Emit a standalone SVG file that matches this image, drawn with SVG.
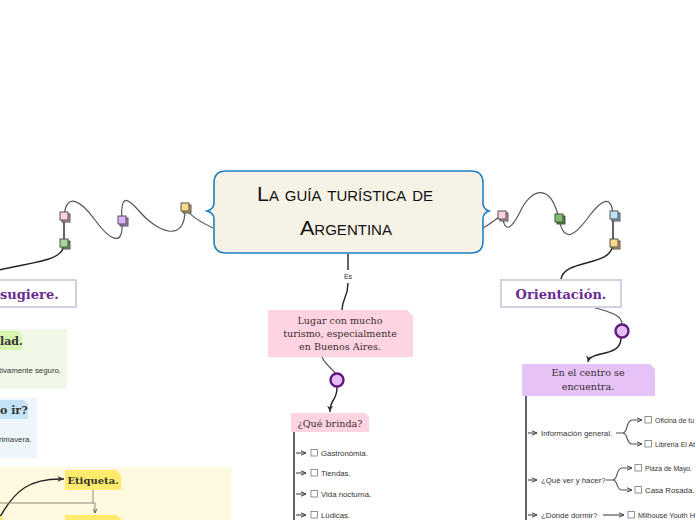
<svg xmlns="http://www.w3.org/2000/svg" width="696" height="520" viewBox="0 0 696 520">
<defs>
<style>
.c{fill:none;stroke:#555;stroke-width:1.2}
.ck{fill:none;stroke:#222;stroke-width:1.4}
.sm{font-family:"Liberation Sans",Arial,sans-serif;font-size:7.8px;fill:#333}
.lab{font-family:"DejaVu Serif",serif;font-size:9.6px;fill:#3a2e2e}
.hd{font-family:"DejaVu Serif",serif;font-weight:bold;font-size:13px;fill:#6b2c91}
.cb{fill:#fff;stroke:#666;stroke-width:0.7}
.sq{stroke:#444;stroke-width:0.9}
</style>
<marker id="ar" viewBox="0 0 6 6" refX="5.5" refY="3" markerWidth="5" markerHeight="5" orient="auto"><path d="M0,0.5 L5.5,3 L0,5.5 L1.5,3 Z" fill="#333"/></marker>
<marker id="ao" viewBox="0 0 6 6" refX="5.5" refY="3" markerWidth="5" markerHeight="5" orient="auto"><path d="M0.5,0.8 L5.5,3 L0.5,5.2" fill="none" stroke="#444" stroke-width="1"/></marker>
</defs>
<rect width="696" height="520" fill="#fff"/>

<!-- left panels -->
<g id="panel-green">
<rect x="-5" y="329" width="72" height="60" fill="#f2f8e8"/>
<path d="M-5,331 H18 L22,335 V350 H-5 Z" fill="#d6f5b0"/>
<text x="0" y="345" font-family="DejaVu Serif,serif" font-weight="bold" font-size="11" fill="#333">lad.</text>
<text x="-1" y="373" class="sm">tivamente seguro.</text>
</g>
<g id="panel-blue">
<rect x="-5" y="398" width="42" height="60" fill="#eef6fc"/>
<path d="M-5,400 H24 L28,404 V419 H-5 Z" fill="#c4e3f7"/>
<text x="0" y="414" font-family="DejaVu Serif,serif" font-weight="bold" font-size="11" fill="#333">o ir?</text>
<text x="-1" y="442" class="sm">rimavera.</text>
</g>
<g id="panel-yellow">
<rect x="-5" y="467" width="236" height="60" fill="#fffadf"/>
</g>

<!-- connectors -->
<g id="connectors">
<path class="c" d="M213,228 C200,222 190,216 185,208"/>
<path class="c" d="M185,208 C186,246 155,230 140,212 C128,198 120,192 122,221 C124,250 108,238 95,220 C82,202 66,190 64,217"/>
<path class="ck" d="M64,217 V244"/>
<path class="ck" d="M64,244 C64,262 30,262 -5,271"/>
<path class="c" d="M483,228 C490,224 496,219 502,215"/>
<path class="c" d="M502,215 C505,235 512,228 520,212 C530,190 550,180 559,219 C564,244 575,236 590,215 C600,202 612,192 613,216"/>
<path class="ck" d="M613,216 V243"/>
<path class="ck" d="M613,243 C613,268 565,258 561,279"/>
<path class="c" d="M592,307 C610,312 622,315 622,324"/>
<path class="ck" d="M621,338 C621,358 590,350 588,362" marker-end="url(#ar)"/>
<path class="ck" d="M348,254 V270"/>
<text x="348" y="278.5" font-family="Liberation Sans,Arial,sans-serif" font-size="7" fill="#333" text-anchor="middle">Es</text>
<path class="ck" d="M348,283 C348,298 342,298 342,310"/>
<path class="c" d="M322,357 C326,366 334,370 336,374"/>
<path class="ck" d="M337,387 C337,402 330,398 330,412" marker-end="url(#ar)"/>
<!-- que brinda list -->
<path class="ck" d="M294,432 V520"/>
<path class="c" d="M296,453 H306" marker-end="url(#ao)"/>
<path class="c" d="M296,473 H306" marker-end="url(#ao)"/>
<path class="c" d="M296,494 H306" marker-end="url(#ao)"/>
<path class="c" d="M296,515 H306" marker-end="url(#ao)"/>
<!-- orientacion list -->
<path class="ck" d="M526,396 V520"/>
<path class="c" d="M528,433 H537" marker-end="url(#ao)"/>
<path class="c" d="M528,480 H537" marker-end="url(#ao)"/>
<path class="c" d="M528,515 H537" marker-end="url(#ao)"/>
<path class="c" d="M616,433 H623 C628,433 626,420 632,420 H642" marker-end="url(#ao)"/>
<path class="c" d="M623,433 C628,433 626,444 632,444 H642" marker-end="url(#ao)"/>
<path class="c" d="M606,480 H613 C618,480 616,468 622,468 H632" marker-end="url(#ao)"/>
<path class="c" d="M613,480 C618,480 616,490 622,490 H632" marker-end="url(#ao)"/>
<path class="c" d="M603,515 H624" marker-end="url(#ao)"/>
<!-- etiqueta -->
<path class="ck" d="M0,517 C15,490 30,478 64,479" marker-end="url(#ar)"/>
<path d="M93,490 V503 M-5,503 H95 V513" fill="none" stroke="#8a8a7a" stroke-width="1" marker-end="url(#ao)"/>
</g>

<!-- squares -->
<g id="squares">
<rect class="sq" x="183" y="205" width="8" height="8" fill="#c9a96a"/><rect class="sq" x="181" y="203" width="8" height="8" fill="#fbd98a"/>
<rect class="sq" x="120" y="218" width="8" height="8" fill="#b090d0"/><rect class="sq" x="118" y="216" width="8" height="8" fill="#dcb5f7"/>
<rect class="sq" x="62" y="214" width="8" height="8" fill="#d0a0b8"/><rect class="sq" x="60" y="212" width="8" height="8" fill="#fad2e2"/>
<rect class="sq" x="62" y="241" width="8" height="8" fill="#6fa060"/><rect class="sq" x="60" y="239" width="8" height="8" fill="#a8d898"/>
<rect class="sq" x="500" y="213" width="8" height="8" fill="#d0a0b8"/><rect class="sq" x="498" y="211" width="8" height="8" fill="#fad2e2"/>
<rect class="sq" x="557" y="216" width="8" height="8" fill="#4e8a40"/><rect class="sq" x="555" y="214" width="8" height="8" fill="#7cbf6a"/>
<rect class="sq" x="612" y="213" width="8" height="8" fill="#90b0c8"/><rect class="sq" x="610" y="211" width="8" height="8" fill="#c0e2f7"/>
<rect class="sq" x="612" y="241" width="8" height="8" fill="#c9a96a"/><rect class="sq" x="610" y="239" width="8" height="8" fill="#fbd98a"/>
</g>

<!-- central node -->
<g id="central">
<path d="M225,171 H471 Q483,171 483,183 V203 Q483,209 489,211 Q483,213 483,219 V241 Q483,253 471,253 H226 Q214,253 214,241 V219 Q214,213 207,211 Q214,209 214,203 V183 Q214,171 226,171 Z" fill="#f7f2e6" stroke="#1f7fc0" stroke-width="1.6"/>
<text x="345" y="201" font-family="Liberation Sans,Arial,sans-serif" font-size="20" font-variant="small-caps" text-anchor="middle" fill="#111" textLength="176" lengthAdjust="spacingAndGlyphs">La guía turística de</text>
<text x="346" y="235" font-family="Liberation Sans,Arial,sans-serif" font-size="20" font-variant="small-caps" text-anchor="middle" fill="#111" textLength="92" lengthAdjust="spacingAndGlyphs">Argentina</text>
</g>

<g id="sugiere">
<rect x="-6" y="280" width="82" height="27" fill="#fff" stroke="#d5cfe4" stroke-width="2"/>
<text x="0" y="299" class="hd">sugiere.</text>
</g>

<g id="orientacion">
<rect x="501" y="280" width="120" height="27" fill="#fff" stroke="#d5cfe4" stroke-width="2"/>
<text x="561" y="299" class="hd" text-anchor="middle">Orientación.</text>
</g>

<g id="circle-right">
<circle cx="622" cy="331" r="6.5" fill="#e7bdf6" stroke="#5e1a7e" stroke-width="2.4"/>
</g>

<g id="centro">
<path d="M522,364 H650 L655,369 V396 H522 Z" fill="#e5c3f7"/>
<text x="588" y="376" class="lab" text-anchor="middle">En el centro se</text>
<text x="588" y="390" class="lab" text-anchor="middle">encuentra.</text>
</g>

<g id="info">
<text x="541" y="436" class="sm">Información general.</text>
<rect class="cb" x="645" y="416.5" width="6.5" height="6.5"/><text x="655" y="423" class="sm" textLength="39" lengthAdjust="spacingAndGlyphs">Oficina de tu</text>
<rect class="cb" x="645" y="440.5" width="6.5" height="6.5"/><text x="655" y="447" class="sm" textLength="40" lengthAdjust="spacingAndGlyphs">Librería El At</text>
</g>
<g id="quever">
<text x="541" y="483" class="sm">¿Qué ver y hacer?</text>
<rect class="cb" x="635" y="464.5" width="6.5" height="6.5"/><text x="645" y="471" class="sm" textLength="47" lengthAdjust="spacingAndGlyphs">Plaza de Mayo.</text>
<rect class="cb" x="635" y="486.5" width="6.5" height="6.5"/><text x="645" y="493" class="sm">Casa Rosada.</text>
</g>
<g id="dormir">
<text x="541" y="518" class="sm">¿Dónde dormir?</text>
<rect class="cb" x="628" y="511.5" width="6.5" height="6.5"/><text x="638" y="518" class="sm" textLength="57" lengthAdjust="spacingAndGlyphs">Milhouse Youth H</text>
</g>

<g id="lugar">
<path d="M268,310 H407 L413,316 V357 H268 Z" fill="#ffd4e2"/>
<text x="340" y="324" class="lab" text-anchor="middle">Lugar con mucho</text>
<text x="340" y="337" class="lab" text-anchor="middle">turismo, especialmente</text>
<text x="340" y="350" class="lab" text-anchor="middle">en Buenos Aires.</text>
</g>

<g id="circle-mid">
<circle cx="337" cy="380" r="6.5" fill="#e7bdf6" stroke="#5e1a7e" stroke-width="2.4"/>
</g>

<g id="brinda">
<path d="M291,413 H365 L369,417 V432 H291 Z" fill="#ffd4e2"/>
<text x="330" y="426.5" class="lab" text-anchor="middle">¿Qué brinda?</text>
</g>
<g id="brinda-items">
<rect class="cb" x="311" y="449.5" width="6.5" height="6.5"/><text x="321" y="456" class="sm">Gastronómia.</text>
<rect class="cb" x="311" y="469.5" width="6.5" height="6.5"/><text x="321" y="476" class="sm">Tiendas.</text>
<rect class="cb" x="311" y="490.5" width="6.5" height="6.5"/><text x="321" y="497" class="sm">Vida nocturna.</text>
<rect class="cb" x="311" y="511.5" width="6.5" height="6.5"/><text x="321" y="518" class="sm">Lúdicas.</text>
</g>

<g id="etiqueta">
<path d="M65,470 H116 L121,475 V490 H65 Z" fill="#ffeb6b"/>
<text x="93" y="484" text-anchor="middle" font-family="DejaVu Serif,serif" font-weight="bold" font-size="10" fill="#333">Etiqueta.</text>
</g>
<g id="yellow-low">
<path d="M65,515 H117 L122,520 V525 H65 Z" fill="#ffeb6b"/>
<circle cx="-1" cy="520" r="4" fill="#ffeb6b"/>
</g>
</svg>
